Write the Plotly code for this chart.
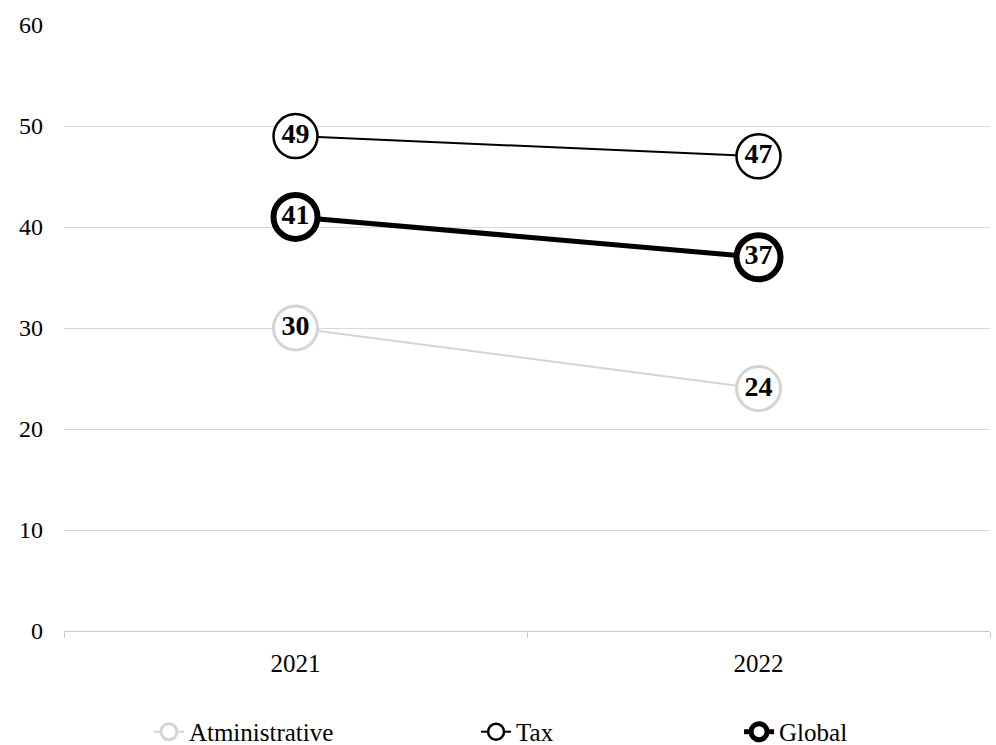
import plotly.graph_objects as go

years = ["2021", "2022"]
administrative = [30, 24]
tax = [49, 47]
global_index = [41, 37]

FONT = "Liberation Serif, Times New Roman, serif"

series = [
    # name, values, line colour, line width, marker size, marker border width, legend
    ("Atministrative", administrative, "#d4d4d4", 2, 44, 3, "legend"),
    ("Tax", tax, "#000000", 2, 44, 2.5, "legend2"),
    ("Global", global_index, "#000000", 5, 44, 6, "legend3"),
]

fig = go.Figure()
for name, vals, color, lw, msize, mlw, leg in series:
    fig.add_trace(go.Scatter(
        x=years, y=vals, name=name, legend=leg, showlegend=True,
        mode="lines+markers+text",
        line=dict(color=color, width=lw),
        marker=dict(symbol="circle", size=msize, color="white",
                    line=dict(color=color, width=mlw)),
        text=[str(v) for v in vals],
        textposition="middle center",
        textfont=dict(family=FONT, size=28, color="black", weight="bold"),
        cliponaxis=False,
        hoverinfo="skip",
    ))

legend_common = dict(orientation="h", yref="container", yanchor="middle", y=0.0175,
                     xanchor="left",
                     font=dict(family=FONT, size=25, color="black"),
                     bgcolor="rgba(0,0,0,0)", borderwidth=0)

fig.update_layout(
    width=996, height=745,
    margin=dict(l=64, r=6, t=25, b=114, autoexpand=False),
    paper_bgcolor="white", plot_bgcolor="white",
    showlegend=True,
    font=dict(family=FONT, size=24, color="black"),
    legend=dict(legend_common, x=0.0917),
    legend2=dict(legend_common, x=0.445),
    legend3=dict(legend_common, x=0.729),
    xaxis=dict(
        type="category", range=[-0.5, 1.5],
        showgrid=False, showline=True, linecolor="#c8c8c8", linewidth=1,
        ticks="outside", tickson="boundaries", ticklen=6, tickcolor="#c8c8c8",
        tickfont=dict(family=FONT, size=25, color="black"),
        ticklabelstandoff=10,
    ),
    yaxis=dict(
        range=[0, 60], dtick=10, showgrid=True, gridcolor="#d9d9d9", gridwidth=1,
        zeroline=False, showline=False, ticks="",
        tickfont=dict(family=FONT, size=24, color="black"),
        ticklabelstandoff=20,
    ),
)

fig.write_html("out.html")
